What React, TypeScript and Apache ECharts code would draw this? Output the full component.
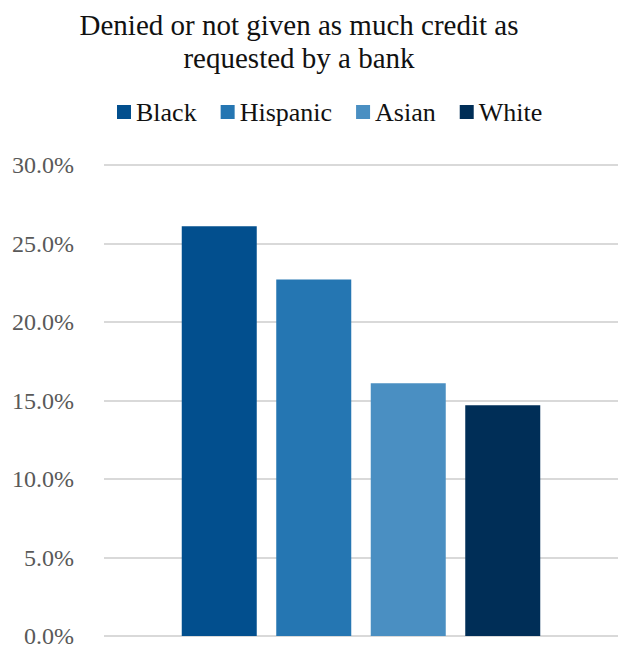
import React, { useEffect, useRef } from "react";
import * as echarts from "echarts";

const seriesNames = ["Black", "Hispanic", "Asian", "White"];
const seriesValues = [26.1, 22.7, 16.1, 14.7];
const seriesColors = ["#024F8E", "#2576B2", "#4A8FC2", "#002E57"];
const categories = [""];
const yTicks = { min: 0, max: 30, interval: 5 };

const FONT = "Liberation Serif";

export default function App() {
  const ref = useRef<HTMLDivElement>(null);
  useEffect(() => {
    if (!ref.current) return;
    const chart = echarts.init(ref.current, undefined, { renderer: "svg" });
    chart.setOption({
      animation: false,
      backgroundColor: "#ffffff",
      color: seriesColors,
      textStyle: { fontFamily: FONT },
      title: {
        text: "Denied or not given as much credit as\nrequested by a bank",
        left: 294,
        textAlign: "center",
        top: 3,
        textStyle: {
          fontFamily: FONT,
          fontSize: 29,
          fontWeight: "normal",
          color: "#111111",
          lineHeight: 33,
        },
      },
      legend: {
        data: seriesNames,
        left: 112,
        top: 94,
        itemWidth: 14,
        itemHeight: 14,
        itemGap: 24,
        icon: "rect",
        textStyle: { fontFamily: FONT, fontSize: 26, color: "#111111" },
      },
      grid: { left: 104, right: 0, top: 165, bottom: 11, containLabel: false },
      xAxis: {
        type: "category",
        data: categories,
        axisLine: { show: false },
        axisTick: { show: false },
        axisLabel: { show: false },
      },
      yAxis: {
        type: "value",
        min: yTicks.min,
        max: yTicks.max,
        interval: yTicks.interval,
        axisLine: { show: false },
        axisTick: { show: false },
        axisLabel: {
          fontFamily: FONT,
          fontSize: 24,
          color: "#595959",
          margin: 30,
          formatter: (v: number) => v.toFixed(1) + "%",
        },
        splitLine: { lineStyle: { color: "#d9d9d9", width: 2 } },
      },
      series: seriesNames.map((name, i) => ({
        name,
        type: "bar",
        data: [seriesValues[i]],
        barWidth: 75,
        barGap: "26%",
        itemStyle: { color: seriesColors[i] },
      })),
    });
    return () => chart.dispose();
  }, []);
  return (
    <div
      ref={ref}
      style={{ position: "fixed", left: 0, top: 0, width: 618, height: 648 }}
    />
  );
}
